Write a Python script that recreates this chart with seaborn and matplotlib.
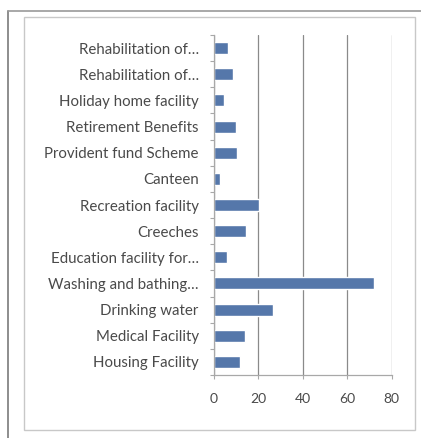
import matplotlib
matplotlib.use("Agg")
import matplotlib.pyplot as plt
import seaborn as sns
import pandas as pd
from matplotlib.patches import Rectangle
from matplotlib.lines import Line2D

categories = [
    "Rehabilitation of (a)", "Rehabilitation of (b)", "Holiday home facility",
    "Retirement Benefits", "Provident fund Scheme", "Canteen",
    "Recreation facility", "Creeches", "Education facility for",
    "Washing and bathing", "Drinking water", "Medical Facility", "Housing Facility",
]
tick_labels = [
    "Rehabilitation of…", "Rehabilitation of…", "Holiday home facility",
    "Retirement Benefits", "Provident fund Scheme", "Canteen",
    "Recreation facility", "Creeches", "Education facility for…",
    "Washing and bathing…", "Drinking water", "Medical Facility", "Housing Facility",
]
values = [6.4, 8.7, 4.5, 9.9, 10.5, 2.5, 20.3, 14.4, 6.0, 72.0, 26.7, 13.8, 11.7]
x_ticks = [0, 20, 40, 60, 80]

df = pd.DataFrame({"category": categories, "value": values})

sns.set_theme(style="white")
plt.rcParams["font.family"] = ["Lato", "DejaVu Sans"]

fig = plt.figure(figsize=(4.21, 4.38), dpi=100)
fig.patch.set_facecolor("white")

# outer and inner frames
fig.add_artist(Line2D([8/421, 8/421], [0, 1 - 11/438], transform=fig.transFigure, color="#7a7a7a", lw=1.2))
fig.add_artist(Line2D([8/421, 1], [1 - 11/438, 1 - 11/438], transform=fig.transFigure, color="#9a9a9a", lw=1.2))
fig.add_artist(Rectangle((24/421, 1 - 430/438), (415-24)/421, (430-17)/438,
                         transform=fig.transFigure, fill=False, edgecolor="#c8c8c8", lw=1.0))

ax = fig.add_axes([214/421, 1 - 375/438, (391.7-214)/421, (375-35)/438])
sns.barplot(data=df, x="value", y="category", orient="h", color="#5577aa",
            saturation=1, width=0.46, ax=ax)

ax.set_xlim(0, 80)
ax.set_xticks(x_ticks)
ax.set_xticklabels([str(t) for t in x_ticks])
ax.set_yticks(range(len(categories)))
ax.set_yticklabels(tick_labels)
ax.set_ylim(len(categories) - 0.5, -0.5)
ax.set_xlabel("")
ax.set_ylabel("")

ax.xaxis.grid(True, color="#8a8a8a", lw=0.9)
ax.set_axisbelow(True)
for s in ["top", "right"]:
    ax.spines[s].set_visible(False)
ax.spines["left"].set_color("#a8a8a8")
ax.spines["bottom"].set_color("#a8a8a8")
ax.spines["left"].set_linewidth(0.9)
ax.spines["bottom"].set_linewidth(0.9)

ax.set_yticks([i - 0.5 for i in range(len(categories) + 1)], minor=True)
ax.tick_params(axis="y", which="major", length=0, pad=11, labelsize=10.8, labelcolor="#4a4a4a")
ax.tick_params(axis="y", which="minor", length=3, color="#a8a8a8", width=0.8, direction="out", left=True)
ax.tick_params(axis="x", which="major", length=3, color="#a8a8a8", width=0.8, bottom=True,
               pad=10, labelsize=10, labelcolor="#4a4a4a")

fig.savefig("out.png", dpi=100)
